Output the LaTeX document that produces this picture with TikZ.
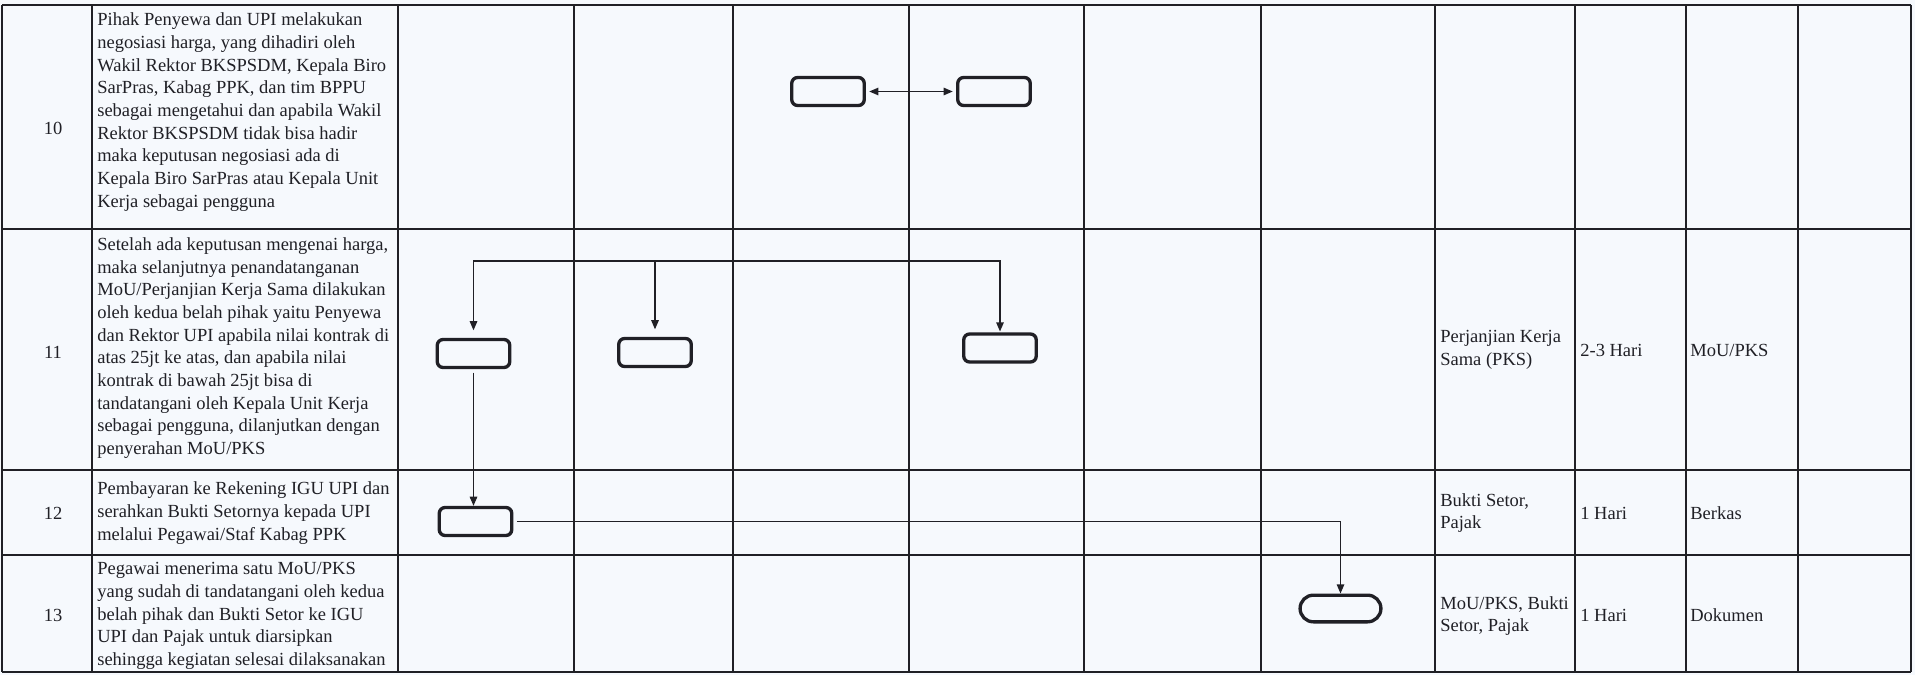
\documentclass[tikz,border=0pt]{standalone}
\usepackage{fontspec}
\setmainfont{Liberation Serif}
\usepackage{tikz}
\usetikzlibrary{arrows.meta,positioning}
\definecolor{paper}{RGB}{246,249,253}
\definecolor{ink}{RGB}{32,32,38}
\tikzset{
  gridline/.style={
    line width = 1.2pt,
    draw = ink
  },
  flowbox/.style={
    shape = rectangle,
    rounded corners = 3.5pt,
    minimum width = 43.5pt,
    minimum height = 16.8pt,
    draw = ink,
    line width = 2pt,
    inner sep = 0pt
  },
  endbox/.style={
    shape = rectangle,
    rounded corners = 8pt,
    minimum width = 48.5pt,
    minimum height = 16pt,
    draw = ink,
    line width = 2pt,
    inner sep = 0pt
  },
  flow/.style={
    line width = 0.8pt,
    draw = ink,
    -{Triangle[length=5.5pt,width=4.5pt]}
  },
  twoway/.style={
    line width = 0.8pt,
    draw = ink,
    {Triangle[length=5.5pt,width=4.5pt]}-{Triangle[length=5.5pt,width=4.5pt]},
    shorten <= 2pt,
    shorten >= 2pt
  },
  cell/.style={
    anchor = west,
    align = left,
    inner sep = 0pt,
    text = ink,
    font = \fontsize{11.1}{13.6}\selectfont
  },
  rownum/.style={
    inner sep = 0pt,
    text = ink,
    font = \fontsize{11.1}{13.6}\selectfont
  }
}

\begin{document}
\begin{tikzpicture}[x=0.6pt,y=-0.6pt]
    \fill[paper] (0,0) rectangle (1915,675);
    \useasboundingbox (0,0) rectangle (1915,675);

    \foreach \x in {2,92,398,574,733,909,1084,1261,1435,1575,1686,1798,1911}
        \draw[gridline] (\x,5) -- (\x,672);
    \foreach \y in {5,229,470,555,672}
        \draw[gridline] (2,\y) -- (1911,\y);

    \node[rownum] (n10) at (53,128) {10};
    \node[rownum] (n11) at (53,352) {11};
    \node[rownum] (n12) at (53,513) {12};
    \node[rownum] (n13) at (53,615) {13};

    \node[cell] (d10) at (97,112) {Pihak Penyewa dan UPI melakukan\\negosiasi harga, yang dihadiri oleh\\Wakil Rektor BKSPSDM, Kepala Biro\\SarPras, Kabag PPK, dan tim BPPU\\sebagai mengetahui dan apabila Wakil\\Rektor BKSPSDM tidak bisa hadir\\maka keputusan negosiasi ada di\\Kepala Biro SarPras atau Kepala Unit\\Kerja sebagai pengguna};
    \node[cell] (d11) at (97,348) {Setelah ada keputusan mengenai harga,\\maka selanjutnya penandatanganan\\MoU/Perjanjian Kerja Sama dilakukan\\oleh kedua belah pihak yaitu Penyewa\\dan Rektor UPI apabila nilai kontrak di\\atas 25jt ke atas, dan apabila nilai\\kontrak di bawah 25jt bisa di\\tandatangani oleh Kepala Unit Kerja\\sebagai pengguna, dilanjutkan dengan\\penyerahan MoU/PKS};
    \node[cell] (d12) at (97,513) {Pembayaran ke Rekening IGU UPI dan\\serahkan Bukti Setornya kepada UPI\\melalui Pegawai/Staf Kabag PPK};
    \node[cell] (d13) at (97,616) {Pegawai menerima satu MoU/PKS\\yang sudah di tandatangani oleh kedua\\belah pihak dan Bukti Setor ke IGU\\UPI dan Pajak untuk diarsipkan\\sehingga kegiatan selesai dilaksanakan};

    \node[cell] (k11) at (1440,350) {Perjanjian Kerja\\Sama (PKS)};
    \node[cell] (w11) at (1580,350) {2-3 Hari};
    \node[cell] (o11) at (1690,350) {MoU/PKS};
    \node[cell] (k12) at (1440,513) {Bukti Setor,\\Pajak};
    \node[cell] (w12) at (1580,513) {1 Hari};
    \node[cell] (o12) at (1690,513) {Berkas};
    \node[cell] (k13) at (1440,616) {MoU/PKS, Bukti\\Setor, Pajak};
    \node[cell] (w13) at (1580,615) {1 Hari};
    \node[cell] (o13) at (1690,615) {Dokumen};

    \node[flowbox] (r10a) at (828,91.5) {};
    \node[flowbox] (r10b) at (994,91.5) {};
    \node[flowbox] (r11a) at (473.5,353.5) {};
    \node[flowbox] (r11b) at (655,352.5) {};
    \node[flowbox] (r11c) at (1000,348) {};
    \node[flowbox] (r12) at (475.5,521.5) {};
    \node[endbox] (r13) at (1340.5,608.5) {};

    \coordinate (fork) at (0,261);

    \draw[twoway] (r10a) -- (r10b);
    \draw[flow, shorten >= 4.5pt] (r11b |- fork) -| (r11a);
    \draw[flow, shorten >= 4.5pt] (r11b |- fork) -- (r11b);
    \draw[flow, shorten >= 0.5pt] (r11b |- fork) -| (r11c);
    \draw[flow, shorten <= 2pt] (r11a) -- (r11a |- r12.north);
    \draw[flow, shorten <= 2pt] (r12) -| (r13);
\end{tikzpicture}
\end{document}
